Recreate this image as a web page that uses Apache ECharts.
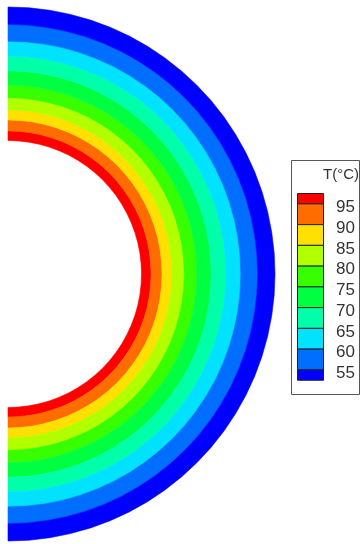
<!DOCTYPE html>
<html>
<head>
<meta charset="utf-8">
<script src="https://cdn.jsdelivr.net/npm/echarts@6/dist/echarts.min.js"></script>
<style>
  html, body { margin: 0; padding: 0; background: #fff; }
  #chart { width: 362px; height: 544px; }
</style>
</head>
<body>
<div id="chart"></div>
<script>
// Contour levels (°C) separating the bands, hottest first
const levels = [95, 90, 85, 80, 75, 70, 65, 60, 55];
// Radius (mm) of each band boundary: inner wall, isotherms, outer wall
const bandRadii = [50, 53.6, 57.7, 61.4, 66.0, 70.7, 76.1, 81.6, 87.2, 93.5, 100];
// Band colours, hottest (inner) first
const bandColors = ['#ff0000', '#ff6c00', '#ffe000', '#b2ff00', '#38ff00',
                    '#00ff40', '#00ffa8', '#00e2ff', '#006eff', '#0000ff'];

const SEGMENTS = 40; // facets of the half-ring mesh

const chart = echarts.init(document.getElementById('chart'), null, { renderer: 'canvas' });

// Each band is drawn as a polygon of the half ring between two radii
function renderBand(params, api) {
  const i = api.value(0);
  const r0 = bandRadii[i], r1 = bandRadii[i + 1];
  const pts = [];
  for (let k = 0; k <= SEGMENTS; k++) {
    const a = Math.PI / 2 - Math.PI * k / SEGMENTS;
    pts.push(api.coord([r1 * Math.cos(a), r1 * Math.sin(a)]));
  }
  for (let k = SEGMENTS; k >= 0; k--) {
    const a = Math.PI / 2 - Math.PI * k / SEGMENTS;
    pts.push(api.coord([r0 * Math.cos(a), r0 * Math.sin(a)]));
  }
  return {
    type: 'polygon',
    shape: { points: pts },
    style: { fill: bandColors[i], stroke: bandColors[i], lineWidth: 0.6 }
  };
}

// Colour key on the right
const keyX = 297, keyW = 26, keyTop = 193, step = 20.75;
const keyItems = [];
keyItems.push({
  type: 'rect', shape: { x: 291.5, y: 160.5, width: 68, height: 234 },
  style: { fill: '#fff', stroke: '#555', lineWidth: 1 }
});
keyItems.push({
  type: 'text', style: {
    text: 'T(°C)', x: 359, y: 175, textAlign: 'right', textVerticalAlign: 'middle',
    fontFamily: 'Liberation Sans, Arial, sans-serif', fontSize: 15, fill: '#333'
  }
});
let y = keyTop;
bandColors.forEach((c, i) => {
  const h = (i === 0 || i === bandColors.length - 1) ? step / 2 : step;
  keyItems.push({
    type: 'rect', shape: { x: keyX + 0.5, y: y + 0.5, width: keyW, height: h },
    style: { fill: c, stroke: '#222', lineWidth: 1 }
  });
  y += h;
});
levels.forEach((lv, i) => {
  const by = keyTop + step / 2 + i * step;
  keyItems.push({
    type: 'text', style: {
      text: String(lv), x: 336, y: by + 4, textAlign: 'left', textVerticalAlign: 'middle',
      fontFamily: 'Liberation Sans, Arial, sans-serif', fontSize: 17, fill: '#333'
    }
  });
});

chart.setOption({
  animation: false,
  backgroundColor: '#fff',
  grid: { left: 8, top: 7, width: 267, height: 534 },
  xAxis: { type: 'value', min: 0, max: 100, show: false },
  yAxis: { type: 'value', min: -100, max: 100, show: false },
  series: [{
    type: 'custom',
    renderItem: renderBand,
    data: bandColors.map((c, i) => [i]),
    silent: true
  }],
  graphic: keyItems
});
</script>
</body>
</html>
